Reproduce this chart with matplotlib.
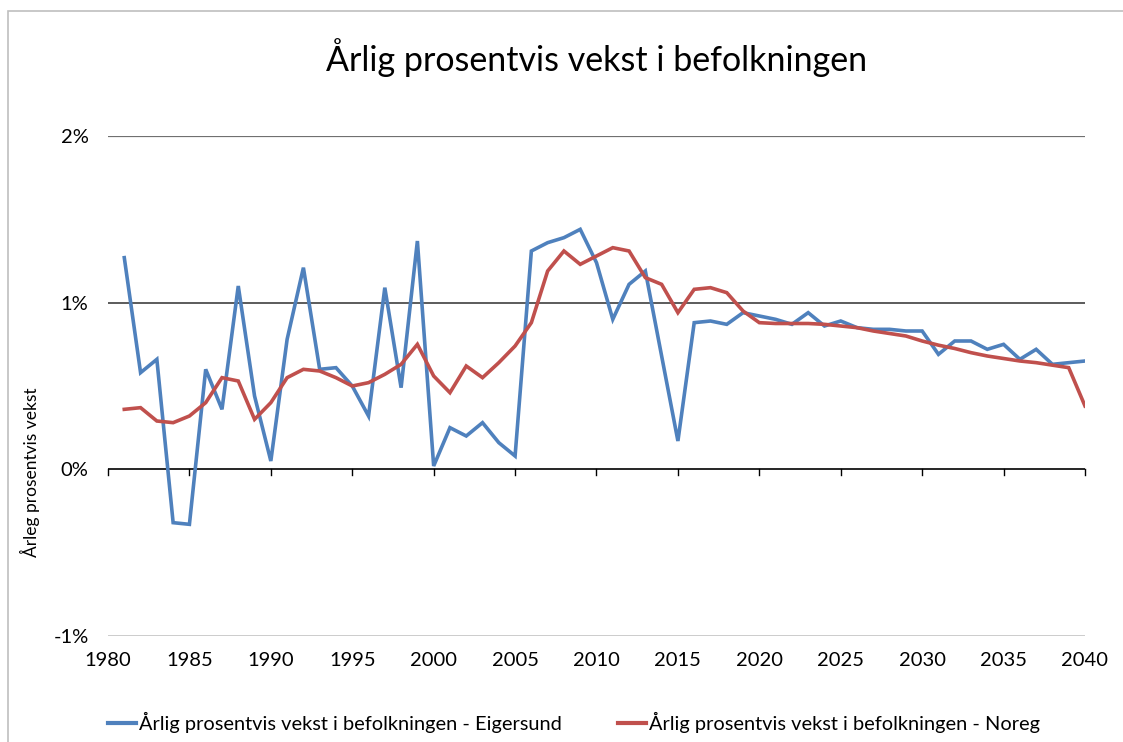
import matplotlib
matplotlib.use("Agg")
import matplotlib.pyplot as plt
from matplotlib.lines import Line2D
from matplotlib.patches import Rectangle
from matplotlib.ticker import FuncFormatter, MultipleLocator

plt.rcParams['font.family'] = ['Lato', 'DejaVu Sans']

years = list(range(1981, 2041))
eigersund = [1.27, 0.58, 0.66, -0.32, -0.33, 0.60, 0.36, 1.10, 0.44, 0.05,
             0.78, 1.21, 0.60, 0.61, 0.50, 0.32, 1.09, 0.49, 1.37, 0.02,
             0.25, 0.20, 0.28, 0.16, 0.08, 1.31, 1.36, 1.39, 1.44, 1.24,
             0.90, 1.11, 1.19, 0.68, 0.17, 0.88, 0.89, 0.87, 0.94, 0.92,
             0.90, 0.87, 0.94, 0.86, 0.89, 0.85, 0.84, 0.84, 0.83, 0.83,
             0.69, 0.77, 0.77, 0.72, 0.75, 0.66, 0.72, 0.63, 0.64, 0.65]
noreg = [0.36, 0.37, 0.29, 0.28, 0.32, 0.40, 0.55, 0.53, 0.30, 0.40,
         0.55, 0.60, 0.59, 0.55, 0.50, 0.52, 0.57, 0.63, 0.75, 0.56,
         0.46, 0.62, 0.55, 0.64, 0.74, 0.88, 1.19, 1.31, 1.23, 1.28,
         1.33, 1.31, 1.15, 1.11, 0.94, 1.08, 1.09, 1.06, 0.95, 0.88,
         0.875, 0.875, 0.875, 0.87, 0.86, 0.85, 0.83, 0.815, 0.80, 0.77,
         0.745, 0.725, 0.70, 0.68, 0.665, 0.65, 0.64, 0.625, 0.61, 0.38]

title = "Årlig prosentvis vekst i befolkningen"
ylabel = "Årleg prosentvis vekst"
labels = ["Årlig prosentvis vekst i befolkningen - Eigersund",
          "Årlig prosentvis vekst i befolkningen - Noreg"]
blue = "#4F81BD"
red = "#C0504D"

W, H = 1123, 742
fig = plt.figure(figsize=(W / 100, H / 100), dpi=100)
fig.patch.set_facecolor("white")

# outer chart frame
fig.add_artist(Rectangle((8 / W, -0.1), 1.2, (H - 11) / H + 0.1, transform=fig.transFigure,
                         fill=False, edgecolor="#BFBFBF", linewidth=1.2))

ax = fig.add_axes([108 / W, (H - 636) / H, (1085 - 108) / W, (636 - 136) / H])
ax.set_xlim(1980, 2040)
ax.set_ylim(-1, 2)
for s in ['left', 'right', 'top', 'bottom']:
    ax.spines[s].set_visible(False)

# gridlines
ax.axhline(2, color="#707070", lw=1.6, zorder=1)
ax.axhline(1, color="#404040", lw=1.2, zorder=1)
ax.axhline(-1, color="#000000", lw=1.0, zorder=1)
ax.axhline(0, color="#000000", lw=1.2, zorder=1)

ax.plot(years, eigersund, color=blue, lw=2.6, zorder=3, solid_joinstyle='miter')
ax.plot(years, noreg, color=red, lw=2.6, zorder=3, solid_joinstyle='miter')

ax.yaxis.set_major_locator(MultipleLocator(1))
ax.yaxis.set_major_formatter(FuncFormatter(lambda v, p: f"{int(round(v))}%"))
ax.tick_params(axis='y', length=0, pad=14, labelsize=14.5)

# x ticks drawn along zero line
xt = list(range(1980, 2041, 5))
ax.set_xticks(xt)
ax.set_xticklabels([])
ax.tick_params(axis='x', length=0)
for x in xt:
    ax.plot([x, x], [0, -0.035], color="black", lw=1.0, clip_on=False, zorder=2)
    ax.text(x, -1.095, str(x), ha='center', va='top', fontsize=14.5)

fig.text(597 / W, 1 - 58 / H, title, ha='center', va='center', fontsize=24.5)
fig.text(30 / W, 1 - 472 / H, ylabel, ha='center', va='center', rotation=90, fontsize=12.5)

handles = [Line2D([0], [0], color=blue, lw=3), Line2D([0], [0], color=red, lw=3)]
fig.legend(handles, labels, loc='center', bbox_to_anchor=(574 / W, 1 - 722 / H), ncol=2,
           frameon=False, fontsize=14.4, handlelength=1.4, handletextpad=0.15, columnspacing=2.8)

fig.savefig("out.png", dpi=100)
